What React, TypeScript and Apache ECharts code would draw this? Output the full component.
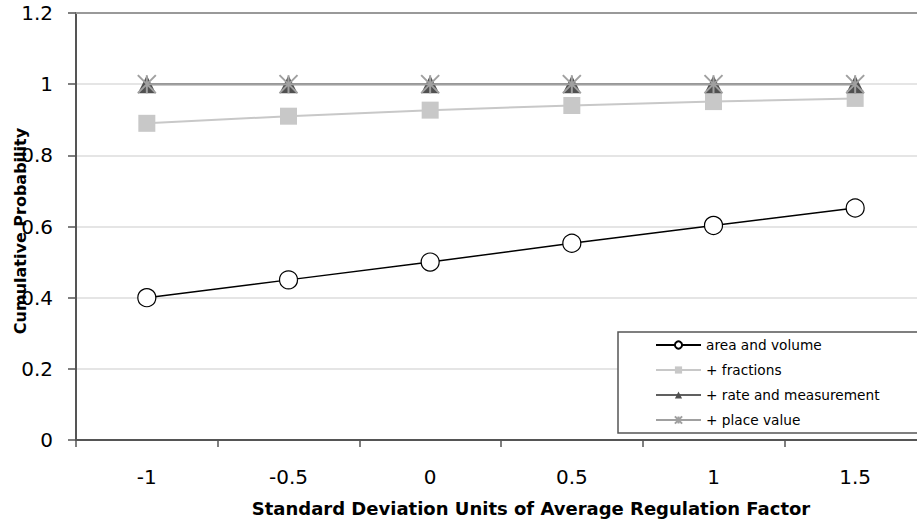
import React, { useEffect, useRef } from "react";
import * as echarts from "echarts";

const categories = ["-1", "-0.5", "0", "0.5", "1", "1.5"];
const areaVolume = [0.4, 0.45, 0.5, 0.553, 0.603, 0.652];
const fractions = [0.89, 0.91, 0.927, 0.94, 0.951, 0.96];
const rateMeasurement = [1, 1, 1, 1, 1, 1];
const placeValue = [1, 1, 1, 1, 1, 1];
const yTicks = { min: 0, max: 1.2, interval: 0.2 };

const FONT = "DejaVu Sans, Verdana, sans-serif";

export default function App() {
  const ref = useRef<HTMLDivElement>(null);
  useEffect(() => {
    if (!ref.current) return;
    const chart = echarts.init(ref.current, null, { renderer: "svg" });
    const star = "path://M0,0 L10,10 M10,0 L0,10 M5,0 L5,10";
    chart.setOption({
      animation: false,
      backgroundColor: "#ffffff",
      textStyle: { fontFamily: FONT },
      grid: {
        left: 76,
        top: 13,
        width: 850,
        height: 427,
        containLabel: false,
        outerBoundsMode: "none",
      },
      xAxis: [
        {
          type: "category",
          data: categories,
          boundaryGap: true,
          axisLine: { lineStyle: { color: "#555", width: 2 } },
          axisTick: { show: true, length: 7, lineStyle: { color: "#555", width: 1.5 } },
          axisLabel: { color: "#000", fontSize: 20, margin: 27, fontFamily: FONT },
          splitLine: { show: false },
        },
        {
          type: "category",
          data: categories,
          position: "top",
          axisLine: { show: true, lineStyle: { color: "#999", width: 2 } },
          axisTick: { show: false },
          axisLabel: { show: false },
        },
      ],
      yAxis: {
        type: "value",
        min: yTicks.min,
        max: yTicks.max,
        interval: yTicks.interval,
        axisLine: { show: true, lineStyle: { color: "#555", width: 2 } },
        axisTick: { show: true, length: 8, lineStyle: { color: "#555", width: 1.5 } },
        axisLabel: {
          color: "#000",
          fontSize: 20,
          margin: 23,
          fontFamily: FONT,
          formatter: (v: number) => String(Math.round(v * 10) / 10),
        },
        splitLine: { show: true, lineStyle: { color: "#dcdcdc", width: 1.5 } },
      },
      legend: {
        orient: "vertical",
        left: 650,
        top: 333,
        itemWidth: 45,
        itemHeight: 9,
        itemGap: 11,
        textStyle: { fontSize: 13.7, color: "#000", fontFamily: FONT },
        data: ["area and volume", "+ fractions", "+ rate and measurement", "+ place value"],
      },
      graphic: [
        {
          type: "rect",
          shape: { x: 618, y: 332, width: 320, height: 101 },
          style: { fill: "#fff", stroke: "#555", lineWidth: 1.5 },
          z: 1,
        },
        {
          type: "text",
          x: 20,
          y: 231,
          rotation: Math.PI / 2,
          style: {
            text: "Cumulative Probability",
            fontSize: 16,
            fontWeight: "bold",
            fill: "#000",
            fontFamily: FONT,
            align: "center",
            verticalAlign: "middle",
          },
          z: 10,
        },
        {
          type: "text",
          x: 531,
          y: 508,
          style: {
            text: "Standard Deviation Units of Average Regulation Factor",
            fontSize: 18,
            fontWeight: "bold",
            fill: "#000",
            fontFamily: FONT,
            align: "center",
            verticalAlign: "middle",
          },
        },
      ],
      series: [
        {
          name: "area and volume",
          type: "line",
          data: areaVolume,
          symbol: "circle",
          symbolSize: 18,
          lineStyle: { color: "#000", width: 1.5 },
          itemStyle: { color: "#fff", borderColor: "#000", borderWidth: 1.2 },
          z: 5,
        },
        {
          name: "+ fractions",
          type: "line",
          data: fractions,
          symbol: "rect",
          symbolSize: 17,
          lineStyle: { color: "#c8c8c8", width: 2 },
          itemStyle: { color: "#c8c8c8" },
          z: 4,
        },
        {
          name: "+ rate and measurement",
          type: "line",
          data: rateMeasurement,
          symbol: "triangle",
          symbolSize: 18,
          lineStyle: { color: "#606060", width: 2 },
          itemStyle: { color: "#505050" },
          z: 4,
        },
        {
          name: "+ place value",
          type: "line",
          data: placeValue,
          symbol: star,
          symbolSize: 18,
          lineStyle: { color: "#a0a0a0", width: 2 },
          itemStyle: { color: "#a0a0a0", borderColor: "#a0a0a0", borderWidth: 2 },
          z: 6,
        },
      ],
    });
    return () => chart.dispose();
  }, []);
  return (
    <div
      ref={ref}
      style={{ position: "absolute", left: 0, top: 0, width: 917, height: 520 }}
    />
  );
}
